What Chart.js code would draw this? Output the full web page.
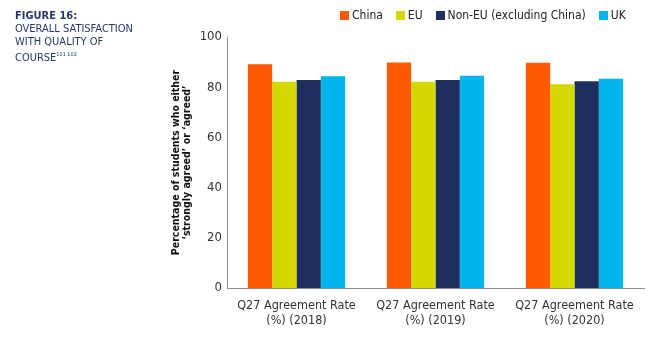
<!DOCTYPE html>
<html>
<head>
<meta charset="utf-8">
<script src="https://cdn.jsdelivr.net/npm/chart.js@4/dist/chart.umd.min.js"></script>
<style>
  body { margin: 0; background: #fff; }
  .wrap { position: relative; width: 652px; height: 339px; font-family: 'Liberation Sans Narrow', 'DejaVu Sans Condensed', sans-serif; }
  canvas { position: absolute; left: 0; top: 0; }
  .titolo { position: absolute; left: 15px; top: 9px; color: #253a6b; font-size: 11px; line-height: 13px; }
  .titolo b { display: block; }
  .titolo sup { font-size: 5.5px; vertical-align: 5px; }
  .legenda { position: absolute; left: 340px; top: 8px; display: flex; font-size: 12px; color: #222; white-space: nowrap; }
  .legenda span.voce { display: flex; align-items: center; margin-right: 13px; }
  .legenda i { display: inline-block; width: 9px; height: 9px; margin-right: 3px; }
</style>
</head>
<body>
<div class="wrap">
  <canvas id="grafico" width="652" height="339"></canvas>
  <div class="titolo"><b>FIGURE 16:</b>OVERALL SATISFACTION<br>WITH QUALITY OF<br>COURSE<sup>101 102</sup></div>
  <div class="legenda" id="legenda"></div>
</div>
<script>
const categorie = [
    ['Q27 Agreement Rate', '(%) (2018)'],
    ['Q27 Agreement Rate', '(%) (2019)'],
    ['Q27 Agreement Rate', '(%) (2020)']
];
const serie = ['China', 'EU', 'Non-EU (excluding China)', 'UK'];
const china = [89.1, 89.8, 89.7];
const eu = [82.2, 82.2, 81.2];
const nonEu = [82.9, 82.9, 82.4];
const uk = [84.4, 84.6, 83.4];
const colori = ['#ff5a00', '#d3d800', '#1e2f5e', '#00b5ee'];
const tickY = [0, 20, 40, 60, 80, 100];

const valori = [china, eu, nonEu, uk];
const font = "'Liberation Sans Narrow', 'DejaVu Sans Condensed', sans-serif";

// legenda html
let legenda = document.getElementById('legenda');
serie.forEach((nome, i) => {
    let voce = document.createElement('span');
    voce.setAttribute('class', 'voce');
    let box = document.createElement('i');
    box.style.background = colori[i];
    voce.appendChild(box);
    voce.appendChild(document.createTextNode(nome));
    legenda.appendChild(voce);
});

new Chart(document.getElementById('grafico'), {
    type: 'bar',
    data: {
        labels: categorie,
        datasets: serie.map((nome, i) => ({
            label: nome,
            data: valori[i],
            backgroundColor: colori[i],
            borderWidth: 0,
            barPercentage: 1,
            categoryPercentage: 0.7
        }))
    },
    options: {
        responsive: false,
        animation: false,
        layout: { padding: { left: 170, top: 37, right: 8, bottom: 0 } },
        plugins: {
            legend: { display: false },
            tooltip: { enabled: false }
        },
        scales: {
            x: {
                grid: { display: false, drawTicks: false },
                border: { display: true, color: '#8c8c8c', width: 1 },
                ticks: { color: '#333', padding: 10, maxRotation: 0, font: { family: font, size: 12.5, lineHeight: 1.2 } },
                afterFit: s => { s.height = 51; }
            },
            y: {
                min: 0,
                max: 100,
                afterBuildTicks: s => { s.ticks = tickY.map(v => ({ value: v })); },
                grid: { display: false, drawTicks: false },
                border: { display: true, color: '#8c8c8c', width: 1 },
                ticks: { color: '#333', padding: 5, font: { family: font, size: 13 } },
                title: {
                    display: true,
                    text: ['Percentage of students who either', '\u2018strongly agreed\u2019 or \u2018agreed\u2019'],
                    color: '#111',
                    padding: 0,
                    font: { family: font, size: 10.5, weight: 'bold', lineHeight: 1.1 }
                },
                afterFit: s => { s.width = 57; }
            }
        }
    }
});
</script>
</body>
</html>
